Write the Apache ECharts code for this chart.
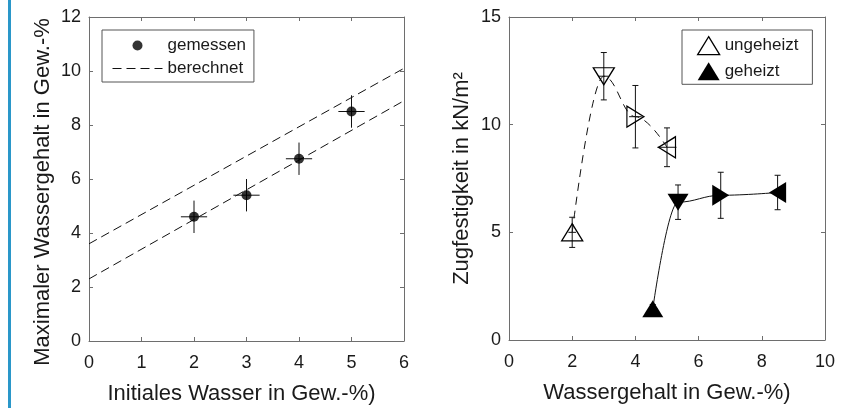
<!DOCTYPE html>
<html><head><meta charset="utf-8">
<script src="https://cdn.jsdelivr.net/npm/echarts@6/dist/echarts.min.js"></script>
<style>html,body{margin:0;padding:0;background:#fff}#c{width:868px;height:408px}</style>
</head><body><div id="c"></div>
<script>
// ---- Left panel data ----
const initialWater = [2, 3, 4, 5];
const maxWaterMeasured = [4.6, 5.4, 6.75, 8.5];
const maxWaterYErr = [0.6, 0.6, 0.6, 0.6];
const initialWaterXErr = [0.25, 0.25, 0.25, 0.25];
const calcLineX = [0, 6];
const calcUpperY = [3.6, 10.1];
const calcLowerY = [2.3, 8.9];

// ---- Right panel data ----
const unheatedWater = [2, 3, 4, 5];
const unheatedStrength = [5.0, 12.25, 10.37, 8.95];
const unheatedStrengthErr = [0.7, 1.1, 1.45, 0.9];
const unheatedWaterErr = [0.12, 0.15, 0.2, 0.3];
const heatedWater = [4.55, 5.35, 6.7, 8.5];
const heatedStrength = [1.45, 6.4, 6.72, 6.85];
const heatedStrengthErr = [0.2, 0.8, 1.07, 0.8];
const heatedWaterErr = [0.15, 0.15, 0.2, 0.25];

// marker direction per point: up, down, right, left
const markerRotations = [0, 180, -90, 90];

const FONT = "'Liberation Sans', Arial, Helvetica, sans-serif";
const AX = '#6e6e6e';
const TXT = '#1a1a1a';

function axisPair(kind, grid, min, max, interval, name, nameGap, namePad) {
  const base = {
    type: 'value', gridIndex: grid, min, max, interval,
    splitLine: {show: false},
    axisLine: {show: true, onZero: false, lineStyle: {color: AX, width: 1}},
    axisTick: {show: true, inside: true, length: 4, lineStyle: {color: AX}},
  };
  const main = Object.assign({}, base, {
    position: kind === 'x' ? 'bottom' : 'left',
    axisLabel: {show: true, fontSize: 18, fontFamily: FONT, color: TXT,
      margin: kind === 'x' ? 13 : 8, padding: kind === 'x' ? 0 : [6, 0, 0, 0]},
    name, nameLocation: 'middle', nameGap,
    nameTextStyle: {fontSize: 22, fontFamily: FONT, color: TXT, padding: namePad || 0}
  });
  const mirror = Object.assign({}, base, {
    position: kind === 'x' ? 'top' : 'right',
    axisLabel: {show: false}
  });
  return [main, mirror];
}

function errorBars(axisIdx, xs, ys, xe, ye, cap) {
  return {
    type: 'custom', xAxisIndex: axisIdx, yAxisIndex: axisIdx, silent: true, z: 1,
    data: xs.map((x, i) => [x, ys[i], xe[i], ye[i]]),
    encode: {x: 0, y: 1},
    renderItem(params, api) {
      const x = api.value(0), y = api.value(1), dx = api.value(2), dy = api.value(3);
      const t = api.coord([x, y + dy]), b = api.coord([x, y - dy]);
      const l = api.coord([x - dx, y]), r = api.coord([x + dx, y]);
      const st = {stroke: '#111', lineWidth: 1};
      const ch = [
        {type: 'line', shape: {x1: t[0], y1: t[1], x2: b[0], y2: b[1]}, style: st},
        {type: 'line', shape: {x1: l[0], y1: l[1], x2: r[0], y2: r[1]}, style: st}
      ];
      if (cap) {
        ch.push({type: 'line', shape: {x1: t[0] - cap, y1: t[1], x2: t[0] + cap, y2: t[1]}, style: st});
        ch.push({type: 'line', shape: {x1: b[0] - cap, y1: b[1], x2: b[0] + cap, y2: b[1]}, style: st});
      }
      return {type: 'group', children: ch};
    }
  };
}

const lx = axisPair('x', 0, 0, 6, 1, 'Initiales Wasser in Gew.-%)', 42, [0, 10, 0, 0]);
const ly = axisPair('y', 0, 0, 12, 2, 'Maximaler Wassergehalt in Gew.-%', 35, [0, 26, 0, 0]);
const rx = axisPair('x', 1, 0, 10, 2, 'Wassergehalt in Gew.-%)', 42);
const ry = axisPair('y', 1, 0, 15, 5, 'Zugfestigkeit in kN/m²', 36);

const option = {
  backgroundColor: '#fff',
  animation: false,
  graphic: [{type: 'rect', left: 8, top: 0, shape: {width: 3, height: 408}, style: {fill: '#2a97c9'}}],
  grid: [
    {left: 89, top: 17, width: 315, height: 324, outerBoundsMode: 'none', containLabel: false},
    {left: 509, top: 17, width: 316, height: 323, outerBoundsMode: 'none', containLabel: false}
  ],
  xAxis: [lx[0], lx[1], rx[0], rx[1]],
  yAxis: [ly[0], ly[1], ry[0], ry[1]],
  legend: [
    {
      left: 102, top: 30, orient: 'vertical', selectedMode: false,
      padding: [7, 8, 5, 10], itemGap: 6, itemWidth: 50, itemHeight: 10,
      backgroundColor: '#fff', borderColor: '#555', borderWidth: 1, borderRadius: 0,
      textStyle: {fontSize: 17, fontFamily: FONT, color: TXT},
      data: [
        {name: 'gemessen', icon: 'circle', itemStyle: {color: '#000'}},
        {name: 'berechnet', itemStyle: {color: 'rgba(0,0,0,0)', borderColor: 'rgba(0,0,0,0)', borderWidth: 0},
          lineStyle: {color: '#111', width: 1, type: [9, 5]}}
      ]
    },
    {
      left: 682, top: 30, orient: 'vertical', selectedMode: false,
      padding: [6, 14, 4, 15], itemGap: 7, itemWidth: 22, itemHeight: 18,
      backgroundColor: '#fff', borderColor: '#555', borderWidth: 1, borderRadius: 0,
      textStyle: {fontSize: 17, fontFamily: FONT, color: TXT},
      data: [
        {name: 'ungeheizt', icon: 'triangle', itemStyle: {color: '#fff', borderColor: '#000', borderWidth: 1.3}},
        {name: 'geheizt', icon: 'triangle', itemStyle: {color: '#000', borderColor: '#000', borderWidth: 0}}
      ]
    }
  ],
  series: [
    {
      name: 'berechnet', type: 'line', xAxisIndex: 0, yAxisIndex: 0, symbol: 'none', z: 2,
      itemStyle: {color: 'rgba(0,0,0,0)'},
      data: calcLineX.map((x, i) => [x, calcUpperY[i]]),
      lineStyle: {color: '#111', width: 1, type: [9, 5]}
    },
    {
      name: 'berechnet', type: 'line', xAxisIndex: 0, yAxisIndex: 0, symbol: 'none', z: 2,
      itemStyle: {color: 'rgba(0,0,0,0)'},
      data: calcLineX.map((x, i) => [x, calcLowerY[i]]),
      lineStyle: {color: '#111', width: 1, type: [9, 5]}
    },
    errorBars(0, initialWater, maxWaterMeasured, initialWaterXErr, maxWaterYErr, 0),
    {
      name: 'gemessen', type: 'scatter', xAxisIndex: 0, yAxisIndex: 0, z: 3,
      symbol: 'circle', symbolSize: 10, itemStyle: {color: '#000'},
      data: initialWater.map((x, i) => [x, maxWaterMeasured[i]])
    },
    errorBars(2, unheatedWater, unheatedStrength, unheatedWaterErr, unheatedStrengthErr, 3),
    errorBars(2, heatedWater, heatedStrength, heatedWaterErr, heatedStrengthErr, 3),
    {
      name: 'ungeheizt', type: 'line', xAxisIndex: 2, yAxisIndex: 2, z: 3,
      smooth: 0.4, smoothMonotone: 'x',
      symbol: 'triangle', symbolSize: [21, 17],
      itemStyle: {color: 'rgba(0,0,0,0)', borderColor: '#000', borderWidth: 1.3},
      lineStyle: {color: '#111', width: 1, type: [8, 6]},
      data: unheatedWater.map((x, i) => ({value: [x, unheatedStrength[i]], symbolRotate: markerRotations[i]}))
    },
    {
      name: 'geheizt', type: 'line', xAxisIndex: 2, yAxisIndex: 2, z: 3,
      smooth: 0.4, smoothMonotone: 'x',
      symbol: 'triangle', symbolSize: [21, 17],
      itemStyle: {color: '#000', borderColor: '#000', borderWidth: 0},
      lineStyle: {color: '#111', width: 1, type: 'solid'},
      data: heatedWater.map((x, i) => ({value: [x, heatedStrength[i]], symbolRotate: markerRotations[i]}))
    }
  ]
};

const chart = echarts.init(document.getElementById('c'), null, {renderer: 'canvas'});
chart.setOption(option);
</script>
</body></html>
